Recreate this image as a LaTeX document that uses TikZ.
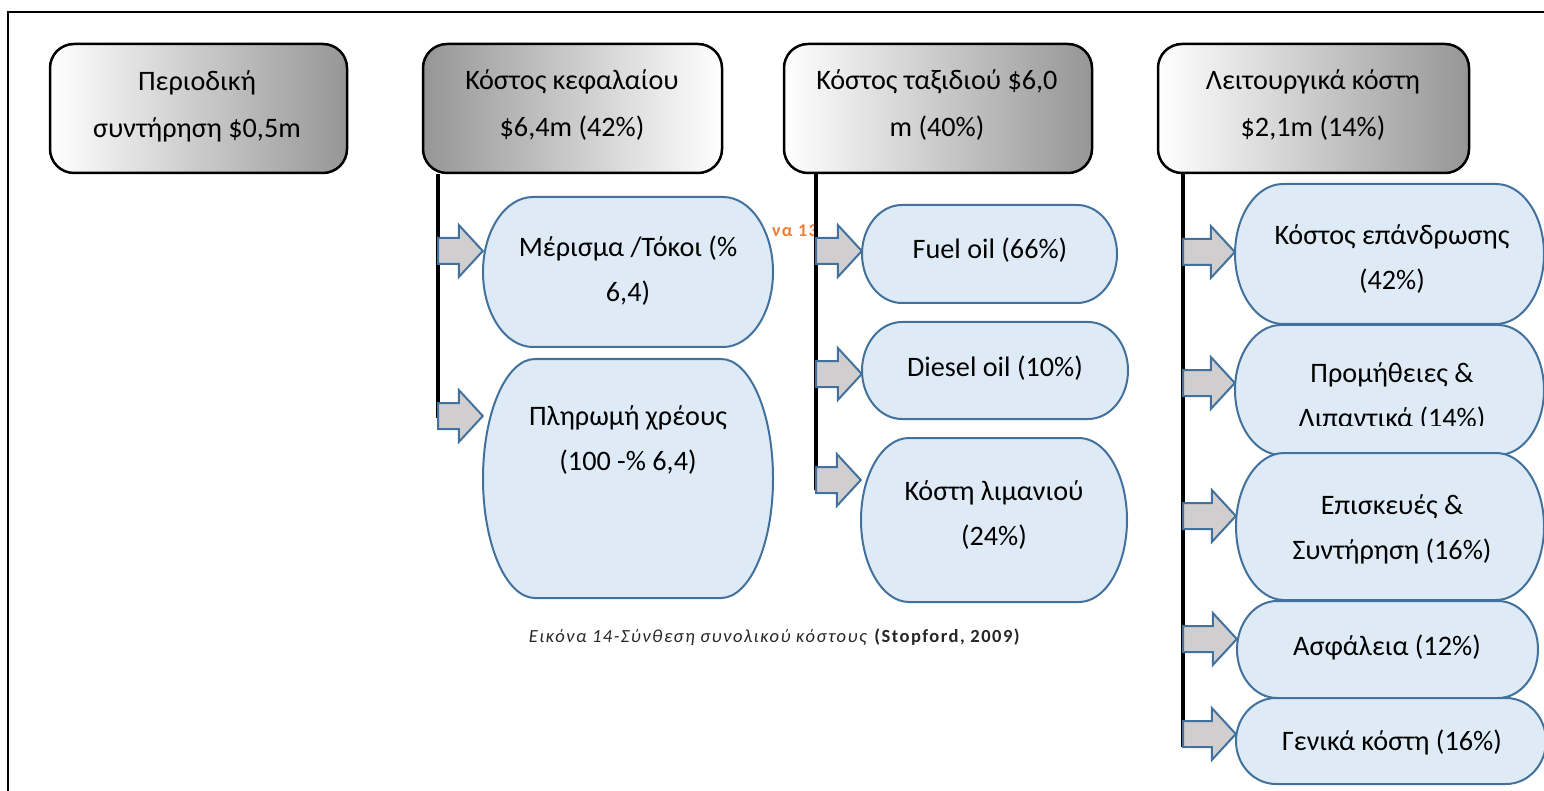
\documentclass[tikz,border=0pt]{standalone}
\usepackage{fontspec}
\setmainfont{Carlito}
\newfontfamily\capfont{Carlito}[LetterSpace=8]
\usetikzlibrary{calc}

\definecolor{leafFill}{RGB}{222,235,247}
\definecolor{leafLine}{RGB}{65,113,156}
\definecolor{flowFill}{RGB}{208,206,206}
\definecolor{headGray}{RGB}{150,150,150}
\definecolor{capOrange}{RGB}{237,125,49}

\tikzset{
  head/.style={draw=black, line width=2.5pt, rounded corners=24pt, inner sep=0pt},
  headlr/.style={head, left color=white, right color=headGray},
  headrl/.style={head, left color=headGray, right color=white},
  headtext/.style={align=center, font=\fontsize{28.2}{47}\selectfont, inner sep=0pt},
  leafshape/.style={fill=leafFill, draw=leafLine, line width=2pt},
  leafarea/.style={inner sep=0pt, draw=none},
  leaftext/.style={align=center, font=\fontsize{28.2}{45}\selectfont, inner sep=0pt},
  trunk/.style={line width=4pt, line cap=butt},
  flow/.style={fill=flowFill, draw=leafLine, line width=2pt, line join=miter},
  frameline/.style={line width=2.5pt},
}

% capsule with elliptical ends: name, x1, y1, x2, y2, horizontal radius
\newcommand\leafbox[6]{%
  \pgfmathsetmacro\lfYm{(#3+#5)/2}%
  \pgfmathsetmacro\lfRy{(#5-#3)/2}%
  \pgfmathsetmacro\lfKx{0.5523*#6}%
  \pgfmathsetmacro\lfKy{0.5523*\lfRy}%
  \path[leafshape] ({#2+#6},#3) -- ({#4-#6},#3)
    .. controls ({#4-#6+\lfKx},#3) and (#4,{\lfYm-\lfKy}) .. (#4,\lfYm)
    .. controls (#4,{\lfYm+\lfKy}) and ({#4-#6+\lfKx},#5) .. ({#4-#6},#5)
    -- ({#2+#6},#5)
    .. controls ({#2+#6-\lfKx},#5) and (#2,{\lfYm+\lfKy}) .. (#2,\lfYm)
    .. controls (#2,{\lfYm-\lfKy}) and ({#2+#6-\lfKx},#3) .. ({#2+#6},#3) -- cycle;
  \node[leafarea, minimum width={#4-#2}, minimum height={#5-#3}] (#1) at ({(#2+#4)/2},\lfYm) {};
}

% block arrow from a point on a trunk to the left edge of a box
\newcommand\flowarrow[2]{%
  \path[flow] let \p1=(#1), \p2=(#1 -| #2.west) in
    (\x1,{\y1-13pt}) -- ({\x2-24pt},{\y1-13pt}) -- ({\x2-24pt},{\y1-26pt})
    -- (\x2,\y1) -- ({\x2-24pt},{\y1+26pt}) -- ({\x2-24pt},{\y1+13pt})
    -- (\x1,{\y1+13pt}) -- cycle;
}

\begin{document}
\begin{tikzpicture}[x=1pt, y=-1pt]
\useasboundingbox (0,0) rectangle (1544,791);
\fill[white] (0,0) rectangle (1544,791);

% page frame
\draw[frameline] (8,800) -- (8,12) -- (1560,12);

% cost headers
\node[headlr, minimum width=297pt, minimum height=129pt] (h1) at (198.5,108.5) {};
\node[headrl, minimum width=299pt, minimum height=129pt] (h2) at (572.5,108.5) {};
\node[headlr, minimum width=308pt, minimum height=129pt] (h3) at (938,108.5) {};
\node[headlr, minimum width=311pt, minimum height=129pt] (h4) at (1313.5,108.5) {};

\node[headtext] (h1-t) at (197,105) {\strut Περιοδική\\\strut συντήρηση \$0,5m};
\node[headtext] (h2-t) at (572,104) {\strut Κόστος κεφαλαίου\\\strut \$6,4m (42\%)};
\node[headtext] (h3-t) at (937,104) {\strut Κόστος ταξιδιού \$6,0\\\strut m (40\%)};
\node[headtext] (h4-t) at (1313,104) {\strut Λειτουργικά κόστη\\\strut \$2,1m (14\%)};

% stray caption fragment
\node[anchor=east, inner sep=0pt, text=capOrange, font=\capfont\bfseries\fontsize{18}{21}\selectfont] (stray) at (818,231) {να 13};

% trunks
\coordinate (t2) at (438,418);
\coordinate (t3) at (816,490);
\coordinate (t4) at (1183,747);
\draw[trunk] (h2.south -| t2) -- (t2);
\draw[trunk] (h3.south -| t3) -- (t3);
\draw[trunk] (h4.south -| t4) -- (t4);

% capital cost items
\leafbox{m1}{483}{197}{773}{347}{50}
\node[leaftext] (m1-t) at (628,270) {\strut Μέρισμα /Τόκοι (\%\\\strut 6,4)};
\leafbox{m2}{483}{359}{773}{598}{52}
\node[leaftext] (m2-t) at (628,439) {\strut Πληρωμή χρέους\\\strut (100 -\% 6,4)};

% voyage cost items
\leafbox{f1}{862}{205}{1117}{303}{40}
\node[leaftext] (f1-t) at (990,250) {\strut Fuel oil (66\%)};
\leafbox{f2}{862}{322}{1128}{419}{40}
\node[leaftext] (f2-t) at (995,367) {\strut Diesel oil (10\%)};
\leafbox{f3}{861}{438}{1127}{602}{48}
\node[leaftext] (f3-t) at (994,514) {\strut Κόστη λιμανιού\\\strut (24\%)};

% operating cost items
\leafbox{o1}{1235}{184}{1544}{324}{48}
\node[leaftext] (o1-t) at (1392,258) {\strut Κόστος επάνδρωσης\\\strut (42\%)};
\leafbox{o2}{1235}{325}{1544}{455}{46}
\begin{scope}
  \clip (1235,325) rectangle (1544,425);
  \node[leaftext] (o2-t) at (1392,396) {\strut Προμήθειες \&\\\strut Λιπαντικά (14\%)};
\end{scope}
\leafbox{o3}{1236}{453}{1544}{600}{48}
\node[leaftext] (o3-t) at (1392,528) {\strut Επισκευές \&\\\strut Συντήρηση (16\%)};
\leafbox{o4}{1237}{601}{1538}{698}{40}
\node[leaftext] (o4-t) at (1387,646) {\strut Ασφάλεια (12\%)};
\leafbox{o5}{1236}{698}{1546}{784}{40}
\node[leaftext] (o5-t) at (1392,741) {\strut Γενικά κόστη (16\%)};

% branch arrows
\coordinate (t2a) at (438,251);
\coordinate (t2b) at (438,416);
\coordinate (t3a) at (816,251);
\coordinate (t3b) at (816,374);
\coordinate (t3c) at (816,480);
\coordinate (t4a) at (1183,252);
\coordinate (t4b) at (1183,383);
\coordinate (t4c) at (1183,516);
\coordinate (t4d) at (1183,639);
\coordinate (t4e) at (1183,734);
\flowarrow{t2a}{m1}
\flowarrow{t2b}{m2}
\flowarrow{t3a}{f1}
\flowarrow{t3b}{f2}
\flowarrow{t3c}{f3}
\flowarrow{t4a}{o1}
\flowarrow{t4b}{o2}
\flowarrow{t4c}{o3}
\flowarrow{t4d}{o4}
\flowarrow{t4e}{o5}

% figure caption
\node[inner sep=0pt, text=black!85, font=\capfont\fontsize{18.5}{22}\selectfont] (cap) at (775,637)
  {\textit{Εικόνα 14-Σύνθεση συνολικού κόστους} \textbf{(Stopford, 2009)}};
\end{tikzpicture}
\end{document}
